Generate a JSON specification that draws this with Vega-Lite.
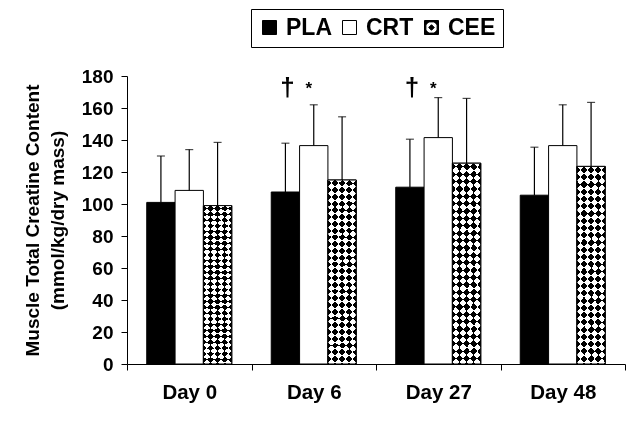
{
  "$schema": "https://vega.github.io/schema/vega-lite/v6.json",
  "width": 498,
  "height": 288,
  "autosize": "none",
  "padding": {"left": 127, "top": 76, "right": 19, "bottom": 65},
  "background": "white",
  "datasets": {
    "creatine": [
      {"Day": "Day 0", "Group": "PLA", "Mean": 101, "Upper": 130},
      {"Day": "Day 0", "Group": "CRT", "Mean": 108.5, "Upper": 134},
      {"Day": "Day 0", "Group": "CEE", "Mean": 99, "Upper": 138.5},
      {"Day": "Day 6", "Group": "PLA", "Mean": 107.5, "Upper": 138},
      {"Day": "Day 6", "Group": "CRT", "Mean": 136.5, "Upper": 162},
      {"Day": "Day 6", "Group": "CEE", "Mean": 115, "Upper": 154.5},
      {"Day": "Day 27", "Group": "PLA", "Mean": 110.5, "Upper": 140.5},
      {"Day": "Day 27", "Group": "CRT", "Mean": 141.5, "Upper": 166.5},
      {"Day": "Day 27", "Group": "CEE", "Mean": 125.5, "Upper": 166},
      {"Day": "Day 48", "Group": "PLA", "Mean": 105.5, "Upper": 135.5},
      {"Day": "Day 48", "Group": "CRT", "Mean": 136.5, "Upper": 162},
      {"Day": "Day 48", "Group": "CEE", "Mean": 123.5, "Upper": 163.5}
    ],
    "signif": [
      {"Day": "Day 6", "Group": "PLA", "Note": "†"},
      {"Day": "Day 6", "Group": "CRT", "Note": "*"},
      {"Day": "Day 27", "Group": "PLA", "Note": "†"},
      {"Day": "Day 27", "Group": "CRT", "Note": "*"}
    ]
  },
  "data": {"name": "creatine"},
  "encoding": {
    "x": {
      "field": "Day",
      "type": "nominal",
      "sort": ["Day 0", "Day 6", "Day 27", "Day 48"],
      "scale": {"paddingInner": 0, "paddingOuter": 0},
      "axis": {
        "title": null,
        "labelAngle": 0,
        "tickBand": "extent",
        "tickSize": 6,
        "labelFontSize": 20.5,
        "labelPadding": 12
      }
    },
    "xOffset": {
      "field": "Group",
      "type": "nominal",
      "sort": ["PLA", "CRT", "CEE"],
      "scale": {"paddingInner": 0, "paddingOuter": 0.697}
    }
  },
  "layer": [
    {
      "mark": {"type": "point", "filled": true, "size": 196, "strokeWidth": 1, "opacity": 1},
      "encoding": {
        "y": {"datum": 40, "type": "quantitative"},
        "fill": {
          "field": "Group",
          "type": "nominal",
          "scale": {"domain": ["PLA", "CRT", "CEE"], "range": ["black", "white", "black"]},
          "legend": {
            "title": null,
            "orient": "none",
            "legendX": 124,
            "legendY": -67,
            "direction": "horizontal",
            "gridAlign": "none"
          }
        },
        "stroke": {
          "field": "Group",
          "type": "nominal",
          "scale": {"domain": ["PLA", "CRT", "CEE"], "range": ["black", "black", "black"]},
          "legend": {
            "title": null,
            "orient": "none",
            "legendX": 124,
            "legendY": -67,
            "direction": "horizontal",
            "gridAlign": "none"
          }
        },
        "shape": {
          "field": "Group",
          "type": "nominal",
          "scale": {
            "domain": ["PLA", "CRT", "CEE"],
            "range": [
              "square",
              "square",
              "M-1,-1H1V1H-1Z M-0.8,-0.8V0.8H0.8V-0.8Z M0,-0.4L0.4,0L0,0.4L-0.4,0Z M-0.8,-0.8H-0.4L-0.8,-0.4Z M0.8,-0.8V-0.4L0.4,-0.8Z M0.8,0.8H0.4L0.8,0.4Z M-0.8,0.8V0.4L-0.4,0.8Z"
            ]
          },
          "legend": {
            "title": null,
            "orient": "none",
            "legendX": 124,
            "legendY": -67,
            "direction": "horizontal",
            "gridAlign": "none"
          }
        }
      }
    },
    {
      "mark": {"type": "bar", "stroke": "black", "strokeWidth": 1},
      "encoding": {
        "y": {
          "field": "Mean",
          "type": "quantitative",
          "scale": {"domain": [0, 180], "nice": false},
          "axis": {
            "values": [0, 20, 40, 60, 80, 100, 120, 140, 160, 180],
            "title": ["Muscle Total Creatine Content", "(mmol/kg/dry mass)"]
          }
        },
        "fill": {
          "condition": {"test": "datum.Group === 'PLA'", "value": "black"},
          "value": "white"
        }
      }
    },
    {
      "transform": [{"filter": "datum.Group === 'CEE'"}],
      "mark": {
        "type": "bar",
        "fill": {
          "gradient": "linear",
          "x1": 0, "y1": 0, "x2": 0.169, "y2": 1.15,
          "stops": [
            {"offset": 0, "color": "#000"}, {"offset": 0.03125, "color": "#000"},
            {"offset": 0.03125, "color": "#fff"}, {"offset": 0.0625, "color": "#fff"},
            {"offset": 0.0625, "color": "#000"}, {"offset": 0.09375, "color": "#000"},
            {"offset": 0.09375, "color": "#fff"}, {"offset": 0.125, "color": "#fff"},
            {"offset": 0.125, "color": "#000"}, {"offset": 0.15625, "color": "#000"},
            {"offset": 0.15625, "color": "#fff"}, {"offset": 0.1875, "color": "#fff"},
            {"offset": 0.1875, "color": "#000"}, {"offset": 0.21875, "color": "#000"},
            {"offset": 0.21875, "color": "#fff"}, {"offset": 0.25, "color": "#fff"},
            {"offset": 0.25, "color": "#000"}, {"offset": 0.28125, "color": "#000"},
            {"offset": 0.28125, "color": "#fff"}, {"offset": 0.3125, "color": "#fff"},
            {"offset": 0.3125, "color": "#000"}, {"offset": 0.34375, "color": "#000"},
            {"offset": 0.34375, "color": "#fff"}, {"offset": 0.375, "color": "#fff"},
            {"offset": 0.375, "color": "#000"}, {"offset": 0.40625, "color": "#000"},
            {"offset": 0.40625, "color": "#fff"}, {"offset": 0.4375, "color": "#fff"},
            {"offset": 0.4375, "color": "#000"}, {"offset": 0.46875, "color": "#000"},
            {"offset": 0.46875, "color": "#fff"}, {"offset": 0.5, "color": "#fff"},
            {"offset": 0.5, "color": "#000"}, {"offset": 0.53125, "color": "#000"},
            {"offset": 0.53125, "color": "#fff"}, {"offset": 0.5625, "color": "#fff"},
            {"offset": 0.5625, "color": "#000"}, {"offset": 0.59375, "color": "#000"},
            {"offset": 0.59375, "color": "#fff"}, {"offset": 0.625, "color": "#fff"},
            {"offset": 0.625, "color": "#000"}, {"offset": 0.65625, "color": "#000"},
            {"offset": 0.65625, "color": "#fff"}, {"offset": 0.6875, "color": "#fff"},
            {"offset": 0.6875, "color": "#000"}, {"offset": 0.71875, "color": "#000"},
            {"offset": 0.71875, "color": "#fff"}, {"offset": 0.75, "color": "#fff"},
            {"offset": 0.75, "color": "#000"}, {"offset": 0.78125, "color": "#000"},
            {"offset": 0.78125, "color": "#fff"}, {"offset": 0.8125, "color": "#fff"},
            {"offset": 0.8125, "color": "#000"}, {"offset": 0.84375, "color": "#000"},
            {"offset": 0.84375, "color": "#fff"}, {"offset": 0.875, "color": "#fff"},
            {"offset": 0.875, "color": "#000"}, {"offset": 0.90625, "color": "#000"},
            {"offset": 0.90625, "color": "#fff"}, {"offset": 0.9375, "color": "#fff"},
            {"offset": 0.9375, "color": "#000"}, {"offset": 0.96875, "color": "#000"},
            {"offset": 0.96875, "color": "#fff"}, {"offset": 1, "color": "#fff"}
          ]
        }
      },
      "encoding": {
        "y": {"field": "Mean", "type": "quantitative"}
      }
    },
    {
      "transform": [{"filter": "datum.Group === 'CEE'"}],
      "mark": {
        "type": "bar",
        "blend": "difference",
        "fill": {
          "gradient": "linear",
          "x1": 1, "y1": 0, "x2": 0.831, "y2": 1.15,
          "stops": [
            {"offset": 0, "color": "#000"}, {"offset": 0.03125, "color": "#000"},
            {"offset": 0.03125, "color": "#fff"}, {"offset": 0.0625, "color": "#fff"},
            {"offset": 0.0625, "color": "#000"}, {"offset": 0.09375, "color": "#000"},
            {"offset": 0.09375, "color": "#fff"}, {"offset": 0.125, "color": "#fff"},
            {"offset": 0.125, "color": "#000"}, {"offset": 0.15625, "color": "#000"},
            {"offset": 0.15625, "color": "#fff"}, {"offset": 0.1875, "color": "#fff"},
            {"offset": 0.1875, "color": "#000"}, {"offset": 0.21875, "color": "#000"},
            {"offset": 0.21875, "color": "#fff"}, {"offset": 0.25, "color": "#fff"},
            {"offset": 0.25, "color": "#000"}, {"offset": 0.28125, "color": "#000"},
            {"offset": 0.28125, "color": "#fff"}, {"offset": 0.3125, "color": "#fff"},
            {"offset": 0.3125, "color": "#000"}, {"offset": 0.34375, "color": "#000"},
            {"offset": 0.34375, "color": "#fff"}, {"offset": 0.375, "color": "#fff"},
            {"offset": 0.375, "color": "#000"}, {"offset": 0.40625, "color": "#000"},
            {"offset": 0.40625, "color": "#fff"}, {"offset": 0.4375, "color": "#fff"},
            {"offset": 0.4375, "color": "#000"}, {"offset": 0.46875, "color": "#000"},
            {"offset": 0.46875, "color": "#fff"}, {"offset": 0.5, "color": "#fff"},
            {"offset": 0.5, "color": "#000"}, {"offset": 0.53125, "color": "#000"},
            {"offset": 0.53125, "color": "#fff"}, {"offset": 0.5625, "color": "#fff"},
            {"offset": 0.5625, "color": "#000"}, {"offset": 0.59375, "color": "#000"},
            {"offset": 0.59375, "color": "#fff"}, {"offset": 0.625, "color": "#fff"},
            {"offset": 0.625, "color": "#000"}, {"offset": 0.65625, "color": "#000"},
            {"offset": 0.65625, "color": "#fff"}, {"offset": 0.6875, "color": "#fff"},
            {"offset": 0.6875, "color": "#000"}, {"offset": 0.71875, "color": "#000"},
            {"offset": 0.71875, "color": "#fff"}, {"offset": 0.75, "color": "#fff"},
            {"offset": 0.75, "color": "#000"}, {"offset": 0.78125, "color": "#000"},
            {"offset": 0.78125, "color": "#fff"}, {"offset": 0.8125, "color": "#fff"},
            {"offset": 0.8125, "color": "#000"}, {"offset": 0.84375, "color": "#000"},
            {"offset": 0.84375, "color": "#fff"}, {"offset": 0.875, "color": "#fff"},
            {"offset": 0.875, "color": "#000"}, {"offset": 0.90625, "color": "#000"},
            {"offset": 0.90625, "color": "#fff"}, {"offset": 0.9375, "color": "#fff"},
            {"offset": 0.9375, "color": "#000"}, {"offset": 0.96875, "color": "#000"},
            {"offset": 0.96875, "color": "#fff"}, {"offset": 1, "color": "#fff"}
          ]
        }
      },
      "encoding": {
        "y": {"field": "Mean", "type": "quantitative"}
      }
    },
    {
      "transform": [{"filter": "datum.Group === 'CEE'"}],
      "mark": {"type": "bar", "fillOpacity": 0, "stroke": "black", "strokeWidth": 1},
      "encoding": {
        "y": {"field": "Mean", "type": "quantitative"}
      }
    },
    {
      "mark": {"type": "rule", "color": "black", "strokeWidth": 1.2},
      "encoding": {
        "y": {"field": "Mean", "type": "quantitative"},
        "y2": {"field": "Upper"}
      }
    },
    {
      "mark": {"type": "tick", "color": "black", "size": 8, "thickness": 1.2},
      "encoding": {
        "y": {"field": "Upper", "type": "quantitative"}
      }
    },
    {
      "data": {"name": "signif"},
      "transform": [{"filter": "datum.Note === '†'"}],
      "mark": {"type": "text", "fontSize": 26, "fontWeight": "bold", "baseline": "middle", "dx": 2, "color": "black"},
      "encoding": {
        "y": {"datum": 172.5, "type": "quantitative"},
        "text": {"field": "Note"}
      }
    },
    {
      "data": {"name": "signif"},
      "transform": [{"filter": "datum.Note === '*'"}],
      "mark": {"type": "text", "fontSize": 17, "fontWeight": "bold", "baseline": "middle", "dx": -5, "dy": 4, "color": "black"},
      "encoding": {
        "y": {"datum": 174.5, "type": "quantitative"},
        "text": {"field": "Note"}
      }
    }
  ],
  "config": {
    "font": "Liberation Sans",
    "view": {"stroke": null},
    "axis": {
      "grid": false,
      "domainColor": "black",
      "tickColor": "black",
      "labelColor": "black",
      "titleColor": "black",
      "labelFont": "Liberation Sans",
      "titleFont": "Liberation Sans",
      "labelFontWeight": "bold",
      "titleFontWeight": "bold",
      "domainWidth": 1,
      "tickWidth": 1
    },
    "axisY": {
      "tickCount": 10,
      "titleFontSize": 19,
      "titleLineHeight": 25,
      "titlePadding": 14,
      "labelFontSize": 19,
      "tickSize": 6,
      "labelPadding": 8
    },
    "legend": {
      "labelFont": "Liberation Sans",
      "labelFontSize": 23,
      "labelFontWeight": "bold",
      "labelColor": "black",
      "labelOffset": 5,
      "symbolSize": 196,
      "symbolStrokeWidth": 1,
      "columnPadding": 6,
      "padding": 7,
      "strokeColor": "black",
      "fillColor": "white",
      "cornerRadius": 0
    }
  }
}
